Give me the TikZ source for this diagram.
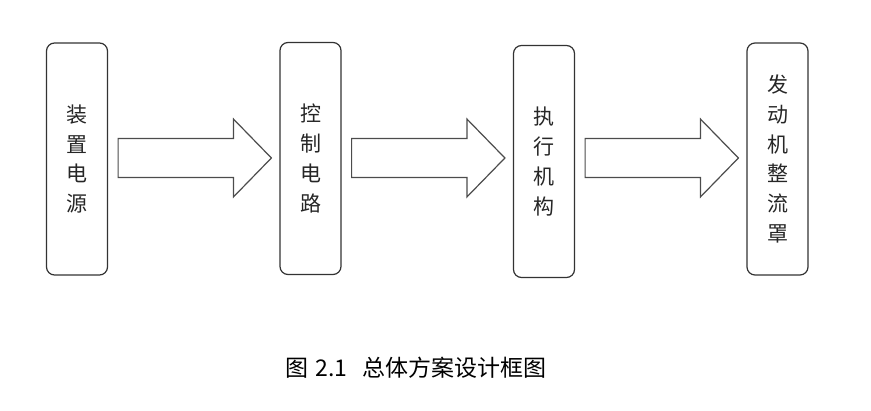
\documentclass[tikz,border=0pt]{standalone}
\usepackage{fontspec}
\newfontfamily\cjk{Noto Sans CJK SC}
\usetikzlibrary{calc}
\def\blockarrow(#1)(#2){\draw[arrowline] ($(#1)+(0,-19.5)$) -- ($(#2)+(-38,-19.5)$) -- ($(#2)+(-38,-39)$) -- (#2) -- ($(#2)+(-38,39)$) -- ($(#2)+(-38,19.5)$) -- ($(#1)+(0,19.5)$) -- cycle;}
\tikzset{
	box/.style={draw=black!80, line width=1.2pt, rounded corners=8pt, minimum width=61pt, minimum height=232pt, inner sep=0pt, align=center, text=black!85, font=\cjk\fontsize{21}{29.7}\selectfont},
	arrowline/.style={draw=black!70, line width=1.2pt, line join=miter}
}
\begin{document}
\begin{tikzpicture}[x=1pt, y=-1pt]
			%%%%% START %%%%%
			\useasboundingbox (0, 0) rectangle (871, 411);
			\coordinate (mid) at (0, 158);
			
			\node[box] (zhuangzhi) at (77, 159) {装\\置\\电\\源};
			\node[box] (kongzhi) at (310.5, 158.5) {控\\制\\电\\路};
			\node[box] (zhixing) at (544, 161.5) {执\\行\\机\\构};
			\node[box] (zhengliu) at (777.5, 159) {发\\动\\机\\整\\流\\罩};
			
			\coordinate (a1s) at ($(zhuangzhi.east |- mid)+(10, 0)$);
			\coordinate (a1e) at ($(kongzhi.west |- mid)+(-8, 0)$);
			\coordinate (a2s) at ($(kongzhi.east |- mid)+(10, 0)$);
			\coordinate (a2e) at ($(zhixing.west |- mid)+(-8, 0)$);
			\coordinate (a3s) at ($(zhixing.east |- mid)+(10, 0)$);
			\coordinate (a3e) at ($(zhengliu.west |- mid)+(-8, 0)$);
			
			\blockarrow(a1s)(a1e)
			\blockarrow(a2s)(a2e)
			\blockarrow(a3s)(a3e)
			
			\node[font=\cjk\fontsize{23}{28}\selectfont, text=black] (caption) at (416, 368) {图\hspace{7pt}2.1\hspace{15pt}总体方案设计框图};
			%%%%% END %%%%%
\end{tikzpicture}
\end{document}
